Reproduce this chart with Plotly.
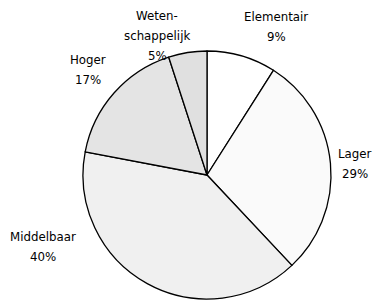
import plotly.graph_objects as go

# Data
categories = ["Elementair", "Lager", "Middelbaar", "Hoger", "Wetenschappelijk"]
label_text = ["Elementair", "Lager", "Middelbaar", "Hoger", "Weten-<br>schappelijk"]
values = [9, 29, 40, 17, 5]

# Styles
colors = ["#ffffff", "#fafafa", "#f0f0f0", "#e4e4e4", "#e0e0e0"]
W, H = 376, 302
FONT = dict(family="DejaVu Sans", size=11.8, color="#000000")

# pie center and radius in window pixels
CX, CY, R = 207, 175, 124
# label anchor (window pixel center x, baseline of first line y)
label_anchor = [(276, 21), (355, 158), (43, 241), (88, 64), (157, 20)]
LINE = 20


def px_x(x):
    return x / W


def px_y(y):
    return 1 - y / H


fig = go.Figure(go.Pie(
    labels=categories,
    values=values,
    sort=False,
    direction="clockwise",
    rotation=0,
    marker=dict(colors=colors, line=dict(color="#000000", width=1.3)),
    textinfo="none",
    hoverinfo="label+percent",
    showlegend=False,
    domain=dict(x=[px_x(CX - R), px_x(CX + R)],
                y=[px_y(CY + R), px_y(CY - R)]),
))

total = sum(values)
annotations = []
for txt, v, (px, py) in zip(label_text, values, label_anchor):
    lines = txt.split("<br>") + [f"{round(v / total * 100)}%"]
    for i, ln in enumerate(lines):
        by = py + i * LINE
        annotations.append(dict(
            x=px_x(px), y=px_y(by - 4), xref="paper", yref="paper",
            text=ln, showarrow=False, xanchor="center", yanchor="middle",
            font=FONT,
        ))

fig.update_layout(
    width=W, height=H,
    margin=dict(l=0, r=0, t=0, b=0),
    paper_bgcolor="#ffffff",
    plot_bgcolor="#ffffff",
    annotations=annotations,
)

fig.write_html(
    "out.html",
    config={"displayModeBar": False},
    post_script="document.body.style.margin='0';document.body.style.overflow='hidden';",
)
